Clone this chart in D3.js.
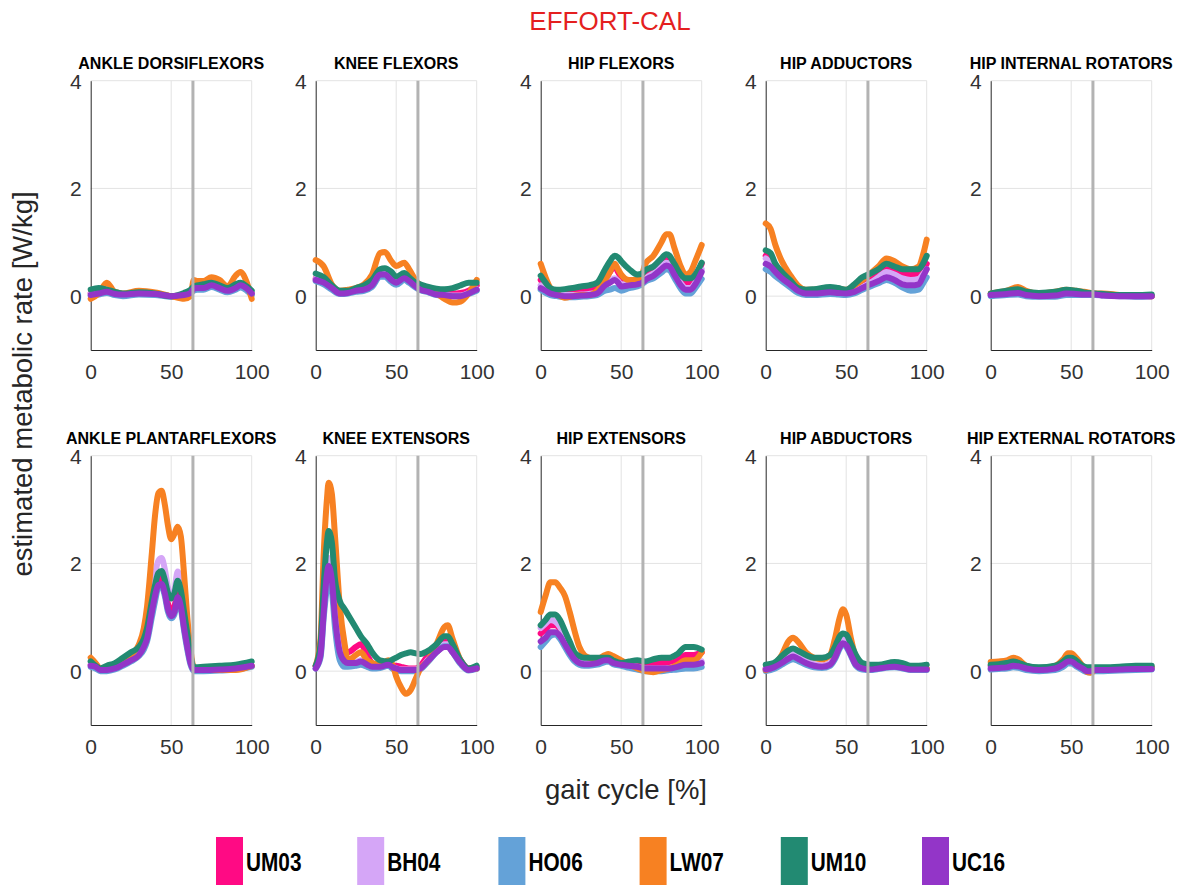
<!DOCTYPE html>
<html>
<head>
<meta charset="utf-8">
<script src="https://cdn.jsdelivr.net/npm/d3@7"></script>
<style>
  body { margin: 0; background: #fff; }
  svg { display: block; font-family: "Liberation Sans", Arial, sans-serif; }
</style>
</head>
<body>
<script>
const width = 1191;
const height = 885;

const subjects = ["UM03", "BH04", "HO06", "LW07", "UM10", "UC16"];
const colors = ["#ff0a84", "#d5a6f7", "#64a2d8", "#f78122", "#228a72", "#9335c8"];

const muscles = [
  "ANKLE DORSIFLEXORS", "KNEE FLEXORS", "HIP FLEXORS", "HIP ADDUCTORS", "HIP INTERNAL ROTATORS",
  "ANKLE PLANTARFLEXORS", "KNEE EXTENSORS", "HIP EXTENSORS", "HIP ABDUCTORS", "HIP EXTERNAL ROTATORS"
];

const xTicks = [0, 50, 100];
const yTicks = [0, 2, 4];
const toeOff = 63.5;

// series order in every panel: UM03, BH04, HO06, LW07, UM10, UC16
const ankleDorsiX = [0, 5, 10, 15, 20, 30, 40, 50, 58, 62, 64, 66, 70, 75, 80, 85, 90, 93, 97, 100];
const ankleDorsiY = [
  [0.05, 0.08, 0.1, 0.06, 0.04, 0.06, 0.05, 0.0, 0.02, 0.08, 0.15, 0.18, 0.18, 0.22, 0.17, 0.12, 0.17, 0.22, 0.15, 0.05],
  [0.04, 0.07, 0.09, 0.05, 0.03, 0.05, 0.04, 0.0, 0.02, 0.07, 0.14, 0.16, 0.16, 0.2, 0.15, 0.1, 0.15, 0.2, 0.13, 0.04],
  [0.0, 0.03, 0.06, 0.02, 0.0, 0.03, 0.02, -0.01, 0.0, 0.05, 0.1, 0.12, 0.12, 0.17, 0.12, 0.07, 0.12, 0.16, 0.1, 0.02],
  [-0.05, 0.05, 0.25, 0.08, 0.05, 0.1, 0.07, 0.0, -0.05, 0.0, 0.3, 0.28, 0.28, 0.35, 0.3, 0.18, 0.38, 0.45, 0.25, -0.05],
  [0.12, 0.15, 0.12, 0.08, 0.05, 0.07, 0.05, 0.0, 0.06, 0.12, 0.18, 0.2, 0.22, 0.25, 0.2, 0.15, 0.22, 0.25, 0.18, 0.1],
  [0.02, 0.05, 0.08, 0.04, 0.03, 0.05, 0.04, 0.0, 0.02, 0.06, 0.14, 0.15, 0.15, 0.2, 0.15, 0.1, 0.15, 0.2, 0.14, 0.05]
];

const kneeFlexX = [0, 5, 10, 15, 20, 25, 30, 35, 40, 43, 47, 50, 55, 58, 62, 65, 70, 75, 80, 85, 90, 95, 100];
const kneeFlexY = [
  [0.33, 0.27, 0.16, 0.06, 0.07, 0.11, 0.14, 0.22, 0.42, 0.42, 0.33, 0.27, 0.35, 0.3, 0.2, 0.14, 0.1, 0.06, 0.05, 0.05, 0.06, 0.1, 0.2],
  [0.32, 0.26, 0.15, 0.06, 0.07, 0.1, 0.13, 0.21, 0.41, 0.41, 0.32, 0.26, 0.34, 0.29, 0.19, 0.13, 0.09, 0.04, 0.03, 0.01, 0.01, 0.06, 0.13],
  [0.28, 0.22, 0.12, 0.04, 0.05, 0.08, 0.1, 0.17, 0.36, 0.36, 0.26, 0.21, 0.3, 0.25, 0.16, 0.11, 0.07, 0.02, 0.01, 0.0, 0.0, 0.04, 0.1],
  [0.67, 0.55, 0.22, 0.1, 0.12, 0.15, 0.22, 0.4, 0.8, 0.82, 0.65, 0.56, 0.62, 0.5, 0.3, 0.2, 0.1, 0.05, -0.05, -0.12, -0.1, 0.05, 0.3],
  [0.42, 0.35, 0.2, 0.1, 0.1, 0.15, 0.2, 0.3, 0.5, 0.52, 0.45, 0.36, 0.43, 0.35, 0.25, 0.22, 0.17, 0.14, 0.13, 0.15, 0.2, 0.25, 0.25],
  [0.3, 0.25, 0.15, 0.05, 0.06, 0.1, 0.12, 0.2, 0.4, 0.4, 0.3, 0.25, 0.33, 0.28, 0.18, 0.12, 0.08, 0.03, 0.02, 0.0, 0.0, 0.05, 0.12]
];

const hipFlexX = [0, 3, 6, 10, 15, 20, 25, 30, 35, 40, 43, 46, 48, 50, 55, 60, 63, 65, 70, 75, 78, 80, 83, 87, 90, 93, 96, 100];
const hipFlexY = [
  [0.3, 0.18, 0.1, 0.07, 0.07, 0.1, 0.12, 0.12, 0.15, 0.3, 0.45, 0.55, 0.45, 0.35, 0.25, 0.28, 0.35, 0.4, 0.45, 0.6, 0.68, 0.65, 0.5, 0.3, 0.25, 0.25, 0.35, 0.6],
  [0.2, 0.12, 0.06, 0.03, 0.02, 0.02, 0.03, 0.04, 0.07, 0.22, 0.28, 0.33, 0.28, 0.22, 0.22, 0.24, 0.27, 0.33, 0.42, 0.55, 0.62, 0.6, 0.45, 0.24, 0.15, 0.15, 0.25, 0.5],
  [0.12, 0.06, 0.02, 0.0, -0.02, -0.02, -0.01, 0.0, 0.02, 0.1, 0.12, 0.15, 0.13, 0.1, 0.15, 0.18, 0.22, 0.27, 0.33, 0.44, 0.5, 0.48, 0.34, 0.14, 0.05, 0.05, 0.15, 0.32],
  [0.6, 0.35, 0.15, 0.05, -0.03, 0.0, 0.02, 0.02, 0.1, 0.3, 0.45, 0.6, 0.5, 0.4, 0.3, 0.3, 0.4, 0.6, 0.75, 1.0, 1.15, 1.15, 0.9, 0.55, 0.4, 0.45, 0.65, 0.95],
  [0.38, 0.25, 0.15, 0.12, 0.13, 0.15, 0.18, 0.2, 0.25, 0.5, 0.65, 0.75, 0.72, 0.65, 0.5, 0.4, 0.42, 0.48, 0.55, 0.7, 0.78, 0.75, 0.6, 0.4, 0.33, 0.33, 0.4, 0.62],
  [0.15, 0.1, 0.05, 0.02, 0.0, 0.0, 0.01, 0.02, 0.05, 0.2, 0.25, 0.3, 0.25, 0.18, 0.2, 0.22, 0.25, 0.3, 0.38, 0.5, 0.57, 0.55, 0.4, 0.2, 0.12, 0.12, 0.22, 0.45]
];

const hipAddX = [0, 3, 6, 10, 15, 20, 25, 30, 40, 45, 50, 55, 60, 65, 70, 75, 80, 85, 90, 95, 98, 100];
const hipAddY = [
  [0.75, 0.68, 0.5, 0.35, 0.22, 0.1, 0.08, 0.08, 0.1, 0.08, 0.05, 0.1, 0.2, 0.3, 0.4, 0.5, 0.45, 0.42, 0.4, 0.42, 0.5, 0.6],
  [0.7, 0.62, 0.48, 0.35, 0.22, 0.1, 0.06, 0.06, 0.08, 0.07, 0.05, 0.08, 0.17, 0.25, 0.35, 0.45, 0.4, 0.33, 0.3, 0.32, 0.42, 0.5],
  [0.5, 0.45, 0.37, 0.28, 0.17, 0.06, 0.02, 0.02, 0.04, 0.03, 0.02, 0.05, 0.12, 0.18, 0.24, 0.3, 0.25, 0.16, 0.1, 0.12, 0.25, 0.35],
  [1.35, 1.25, 0.95, 0.65, 0.4, 0.2, 0.12, 0.12, 0.15, 0.14, 0.12, 0.2, 0.3, 0.42, 0.55, 0.7, 0.65, 0.55, 0.5, 0.55, 0.8, 1.05],
  [0.85, 0.8, 0.6, 0.45, 0.3, 0.15, 0.12, 0.13, 0.17, 0.15, 0.12, 0.22, 0.35, 0.42, 0.5, 0.6, 0.55, 0.5, 0.5, 0.5, 0.62, 0.75],
  [0.6, 0.55, 0.45, 0.33, 0.22, 0.1, 0.05, 0.05, 0.07, 0.06, 0.05, 0.08, 0.15, 0.22, 0.28, 0.35, 0.3, 0.22, 0.2, 0.22, 0.38, 0.5]
];

const hipIntRotX = [0, 10, 17, 22, 30, 40, 47, 53, 58, 65, 70, 80, 90, 100];
const hipIntRotY = [
  [0.03, 0.06, 0.09, 0.05, 0.03, 0.04, 0.07, 0.06, 0.05, 0.04, 0.03, 0.01, 0.0, 0.0],
  [0.02, 0.05, 0.08, 0.04, 0.02, 0.03, 0.06, 0.05, 0.04, 0.03, 0.02, 0.01, 0.0, 0.0],
  [0.0, 0.02, 0.03, 0.0, -0.01, -0.01, 0.02, 0.02, 0.02, 0.02, 0.01, 0.0, -0.01, 0.0],
  [0.05, 0.1, 0.17, 0.1, 0.05, 0.08, 0.12, 0.1, 0.08, 0.05, 0.05, 0.02, 0.01, 0.0],
  [0.05, 0.1, 0.13, 0.08, 0.06, 0.08, 0.12, 0.1, 0.07, 0.05, 0.04, 0.02, 0.02, 0.03],
  [0.02, 0.04, 0.06, 0.02, 0.0, 0.01, 0.05, 0.04, 0.03, 0.03, 0.01, 0.0, 0.0, 0.0]
];

const anklePlantX = [0, 3, 6, 10, 15, 20, 25, 30, 33, 35, 38, 40, 42, 44, 46, 48, 50, 52, 54, 56, 58, 60, 62, 64, 65, 70, 80, 90, 100];
const anklePlantY = [
  [0.12, 0.08, 0.03, 0.03, 0.07, 0.14, 0.22, 0.35, 0.5, 0.7, 1.2, 1.5, 1.7, 1.72, 1.55, 1.25, 1.12, 1.2, 1.45, 1.3, 0.85, 0.5, 0.18, 0.03, 0.02, 0.02, 0.03, 0.05, 0.1],
  [0.12, 0.08, 0.03, 0.03, 0.07, 0.14, 0.22, 0.35, 0.55, 0.8, 1.4, 1.8, 2.05, 2.1, 1.9, 1.55, 1.35, 1.5, 1.85, 1.65, 1.2, 0.65, 0.3, 0.05, 0.03, 0.03, 0.04, 0.06, 0.1],
  [0.08, 0.05, 0.0, 0.0, 0.03, 0.1, 0.18, 0.28, 0.4, 0.55, 1.0, 1.3, 1.55, 1.58, 1.4, 1.1, 0.98, 1.05, 1.3, 1.15, 0.75, 0.4, 0.12, 0.0, 0.0, 0.0, 0.01, 0.03, 0.08],
  [0.25, 0.15, 0.05, 0.05, 0.12, 0.2, 0.3, 0.5, 0.8, 1.2, 2.2, 2.9, 3.3, 3.35, 3.1, 2.7, 2.45, 2.55, 2.68, 2.5, 1.8, 1.0, 0.4, 0.05, 0.02, 0.02, 0.02, 0.02, 0.1],
  [0.18, 0.1, 0.05, 0.1, 0.15, 0.25, 0.35, 0.45, 0.6, 0.8, 1.3, 1.6, 1.82, 1.86, 1.7, 1.45, 1.35, 1.45, 1.68, 1.5, 1.1, 0.7, 0.3, 0.08, 0.07, 0.08, 0.1, 0.12, 0.18],
  [0.1, 0.08, 0.02, 0.02, 0.05, 0.12, 0.2, 0.3, 0.45, 0.6, 1.1, 1.4, 1.6, 1.62, 1.45, 1.15, 1.02, 1.1, 1.37, 1.2, 0.8, 0.45, 0.15, 0.02, 0.02, 0.02, 0.03, 0.05, 0.1]
];

const kneeExtX = [0, 3, 5, 7, 8, 10, 12, 15, 18, 20, 25, 28, 32, 35, 40, 45, 48, 50, 53, 56, 59, 62, 65, 70, 75, 80, 82, 85, 90, 95, 100];
const kneeExtY = [
  [0.1, 0.4, 1.2, 1.75, 1.9, 1.8, 1.0, 0.6, 0.4, 0.35, 0.45, 0.5, 0.3, 0.15, 0.1, 0.12, 0.1, 0.1, 0.08, 0.06, 0.05, 0.05, 0.1, 0.3, 0.4, 0.55, 0.55, 0.45, 0.2, 0.05, 0.05],
  [0.1, 0.35, 1.3, 1.95, 2.1, 1.9, 1.1, 0.4, 0.2, 0.18, 0.17, 0.2, 0.14, 0.1, 0.09, 0.12, 0.07, 0.05, 0.03, 0.03, 0.03, 0.03, 0.06, 0.22, 0.38, 0.5, 0.5, 0.38, 0.16, 0.03, 0.05],
  [0.05, 0.25, 1.0, 1.55, 1.7, 1.5, 0.8, 0.2, 0.08, 0.08, 0.1, 0.12, 0.08, 0.05, 0.06, 0.1, 0.04, 0.02, 0.0, 0.0, 0.0, 0.0, 0.03, 0.18, 0.35, 0.46, 0.46, 0.35, 0.13, 0.01, 0.04],
  [0.1, 0.6, 2.2, 3.2, 3.5, 3.3, 2.5, 1.2, 0.5, 0.2, 0.3, 0.35, 0.2, 0.15, 0.12, 0.2, 0.1, -0.1, -0.3, -0.42, -0.35, -0.15, 0.05, 0.2, 0.5, 0.82, 0.85, 0.6, 0.2, 0.05, 0.05],
  [0.1, 0.5, 1.6, 2.4, 2.6, 2.4, 1.7, 1.3, 1.15, 1.05, 0.8, 0.65, 0.5, 0.35, 0.2, 0.18, 0.22, 0.25, 0.3, 0.33, 0.35, 0.33, 0.32, 0.38, 0.5, 0.65, 0.65, 0.5, 0.2, 0.05, 0.1],
  [0.05, 0.3, 1.1, 1.8, 1.95, 1.7, 1.0, 0.35, 0.18, 0.15, 0.15, 0.18, 0.12, 0.08, 0.08, 0.12, 0.07, 0.05, 0.02, 0.02, 0.02, 0.02, 0.05, 0.2, 0.35, 0.45, 0.45, 0.35, 0.15, 0.02, 0.05]
];

const hipExtX = [0, 3, 6, 9, 12, 15, 18, 21, 24, 27, 30, 35, 40, 42, 45, 50, 55, 60, 65, 70, 75, 80, 85, 90, 95, 100];
const hipExtY = [
  [0.7, 0.78, 0.85, 0.85, 0.78, 0.6, 0.42, 0.28, 0.2, 0.17, 0.17, 0.18, 0.22, 0.22, 0.18, 0.15, 0.12, 0.1, 0.1, 0.15, 0.15, 0.15, 0.2, 0.3, 0.3, 0.35],
  [0.8, 0.88, 0.95, 0.92, 0.82, 0.65, 0.45, 0.3, 0.2, 0.16, 0.15, 0.16, 0.2, 0.2, 0.16, 0.13, 0.1, 0.08, 0.05, 0.05, 0.05, 0.06, 0.1, 0.14, 0.14, 0.18],
  [0.45, 0.55, 0.65, 0.68, 0.6, 0.45, 0.3, 0.18, 0.12, 0.1, 0.1, 0.12, 0.17, 0.18, 0.13, 0.1, 0.06, 0.03, 0.0, 0.0, 0.0, 0.02, 0.03, 0.05, 0.05, 0.08],
  [1.1, 1.4, 1.65, 1.65, 1.55, 1.4, 1.1, 0.75, 0.45, 0.3, 0.25, 0.22, 0.3, 0.32, 0.28, 0.2, 0.12, 0.05, 0.0, -0.02, 0.02, 0.05, 0.12, 0.2, 0.2, 0.35],
  [0.85, 0.95, 1.05, 1.05, 0.95, 0.75, 0.55, 0.35, 0.28, 0.25, 0.25, 0.25, 0.25, 0.25, 0.2, 0.15, 0.18, 0.2, 0.18, 0.22, 0.25, 0.25, 0.32, 0.45, 0.45, 0.4],
  [0.55, 0.62, 0.72, 0.72, 0.65, 0.5, 0.35, 0.22, 0.15, 0.13, 0.13, 0.15, 0.2, 0.2, 0.15, 0.12, 0.1, 0.08, 0.05, 0.05, 0.05, 0.05, 0.08, 0.12, 0.12, 0.15]
];

const hipAbdX = [0, 5, 10, 14, 17, 20, 25, 30, 35, 40, 43, 46, 48, 50, 53, 56, 60, 65, 70, 80, 85, 90, 95, 100];
const hipAbdY = [
  [0.05, 0.08, 0.17, 0.26, 0.3, 0.26, 0.17, 0.12, 0.1, 0.14, 0.28, 0.48, 0.55, 0.5, 0.32, 0.14, 0.06, 0.04, 0.06, 0.09, 0.07, 0.04, 0.04, 0.04],
  [0.05, 0.1, 0.2, 0.3, 0.35, 0.3, 0.2, 0.13, 0.1, 0.15, 0.3, 0.52, 0.6, 0.55, 0.35, 0.15, 0.06, 0.04, 0.06, 0.09, 0.07, 0.04, 0.04, 0.04],
  [0.0, 0.04, 0.12, 0.19, 0.22, 0.19, 0.12, 0.07, 0.06, 0.1, 0.22, 0.42, 0.5, 0.45, 0.28, 0.1, 0.03, 0.02, 0.04, 0.07, 0.05, 0.02, 0.02, 0.02],
  [0.02, 0.1, 0.3, 0.55, 0.62, 0.55, 0.35, 0.25, 0.22, 0.3, 0.6, 1.0, 1.15, 1.05, 0.6, 0.25, 0.08, 0.05, 0.08, 0.1, 0.08, 0.05, 0.05, 0.05],
  [0.12, 0.15, 0.28, 0.38, 0.42, 0.38, 0.3, 0.25, 0.25, 0.3, 0.45, 0.65, 0.7, 0.68, 0.5, 0.3, 0.15, 0.12, 0.12, 0.17, 0.15, 0.1, 0.1, 0.12],
  [0.03, 0.07, 0.15, 0.23, 0.27, 0.23, 0.15, 0.1, 0.08, 0.12, 0.25, 0.45, 0.52, 0.48, 0.3, 0.12, 0.05, 0.03, 0.05, 0.08, 0.06, 0.03, 0.03, 0.03]
];

const hipExtRotX = [0, 5, 10, 14, 17, 22, 30, 40, 45, 48, 50, 53, 57, 60, 62, 65, 70, 80, 90, 100];
const hipExtRotY = [
  [0.1, 0.1, 0.12, 0.15, 0.13, 0.07, 0.03, 0.06, 0.14, 0.2, 0.2, 0.15, 0.06, 0.01, 0.0, 0.02, 0.03, 0.04, 0.05, 0.06],
  [0.08, 0.09, 0.1, 0.13, 0.11, 0.05, 0.02, 0.05, 0.13, 0.19, 0.19, 0.14, 0.05, 0.0, 0.0, 0.01, 0.02, 0.03, 0.04, 0.05],
  [0.03, 0.04, 0.05, 0.07, 0.06, 0.02, 0.0, 0.02, 0.08, 0.14, 0.14, 0.09, 0.02, -0.02, -0.02, 0.0, 0.0, 0.01, 0.02, 0.03],
  [0.17, 0.18, 0.2, 0.25, 0.22, 0.1, 0.05, 0.1, 0.22, 0.33, 0.33, 0.25, 0.1, -0.02, -0.03, 0.02, 0.03, 0.05, 0.05, 0.08],
  [0.12, 0.13, 0.15, 0.18, 0.16, 0.1, 0.07, 0.1, 0.18, 0.25, 0.25, 0.2, 0.1, 0.07, 0.07, 0.07, 0.07, 0.08, 0.1, 0.1],
  [0.05, 0.06, 0.07, 0.1, 0.09, 0.05, 0.02, 0.05, 0.12, 0.18, 0.18, 0.12, 0.05, 0.0, 0.0, 0.02, 0.02, 0.03, 0.04, 0.04]
];

const panelX = [ankleDorsiX, kneeFlexX, hipFlexX, hipAddX, hipIntRotX, anklePlantX, kneeExtX, hipExtX, hipAbdX, hipExtRotX];
const panelY = [ankleDorsiY, kneeFlexY, hipFlexY, hipAddY, hipIntRotY, anklePlantY, kneeExtY, hipExtY, hipAbdY, hipExtRotY];

// layout
const colLeft = [90.7, 315.7, 540.7, 765.7, 990.7];
const rowTop = [80.7, 455.7];
const plotW = 161;
const plotH = 269.3;

const svg = d3.select("body").append("svg")
  .attr("width", width)
  .attr("height", height);

svg.append("text")
  .attr("x", 610)
  .attr("y", 30)
  .attr("text-anchor", "middle")
  .attr("font-size", "26px")
  .attr("fill", "#e41f1f")
  .text("EFFORT-CAL");

const x = d3.scaleLinear().domain([0, 100]).range([0, plotW]);
const y = d3.scaleLinear().domain([-1, 4]).range([plotH, 0]);

muscles.forEach((name, i) => {
  const g = svg.append("g")
    .attr("transform", `translate(${colLeft[i % 5]}, ${rowTop[Math.floor(i / 5)]})`);

  // grid
  g.selectAll(".gy").data(yTicks).enter().append("line")
    .attr("x1", 0).attr("x2", plotW)
    .attr("y1", d => y(d)).attr("y2", d => y(d))
    .attr("stroke", "#e3e3e3").attr("stroke-width", 1);
  g.selectAll(".gx").data(xTicks.slice(1)).enter().append("line")
    .attr("x1", d => x(d)).attr("x2", d => x(d))
    .attr("y1", 0).attr("y2", plotH)
    .attr("stroke", "#e3e3e3").attr("stroke-width", 1);

  // axes
  const xAxis = g.append("g")
    .attr("transform", `translate(0, ${plotH})`)
    .call(d3.axisBottom(x).tickValues(xTicks).tickSize(0).tickPadding(14).tickFormat(d3.format("d")));
  const yAxis = g.append("g")
    .call(d3.axisLeft(y).tickValues(yTicks).tickSize(0).tickPadding(9).tickFormat(d3.format("d")));
  [xAxis, yAxis].forEach(a => {
    a.select(".domain").attr("stroke", "#262626").attr("stroke-width", 1);
    a.selectAll("text")
      .attr("font-size", "21px")
      .attr("fill", "#333")
      .attr("font-family", "'Liberation Sans', Arial, sans-serif");
  });
  yAxis.selectAll("text").attr("dy", "0.36em");

  // lines
  const line = d3.line()
    .x((d, k) => x(panelX[i][k]))
    .y(d => y(d))
    .curve(d3.curveMonotoneX);

  g.selectAll(".series").data(panelY[i]).enter().append("path")
    .attr("d", d => line(d))
    .attr("fill", "none")
    .attr("stroke", (d, k) => colors[k])
    .attr("stroke-width", 6)
    .attr("stroke-linejoin", "round")
    .attr("stroke-linecap", "round");

  // toe-off line
  g.append("line")
    .attr("x1", x(toeOff)).attr("x2", x(toeOff))
    .attr("y1", 0).attr("y2", plotH)
    .attr("stroke", "#b3b3b3").attr("stroke-width", 3);

  g.append("text")
    .attr("x", plotW / 2)
    .attr("y", -12)
    .attr("text-anchor", "middle")
    .attr("font-size", "16px")
    .attr("font-weight", "bold")
    .attr("fill", "#000")
    .text(name);
});

svg.append("text")
  .attr("transform", "translate(32, 384) rotate(-90)")
  .attr("text-anchor", "middle")
  .attr("font-size", "27.5px")
  .attr("fill", "#262626")
  .text("estimated metabolic rate [W/kg]");

svg.append("text")
  .attr("x", 626)
  .attr("y", 799)
  .attr("text-anchor", "middle")
  .attr("font-size", "27.5px")
  .attr("fill", "#262626")
  .text("gait cycle [%]");

// legend
const legend = svg.append("g");
const item = legend.selectAll("g").data(subjects).enter().append("g")
  .attr("transform", (d, k) => `translate(${216 + k * 141.2}, 837)`);
item.append("rect")
  .attr("width", 27).attr("height", 50)
  .attr("fill", (d, k) => colors[k]);
item.append("text")
  .attr("transform", "translate(30, 34) scale(0.8, 1)")
  .attr("font-size", "26px")
  .attr("font-weight", "bold")
  .attr("fill", "#000")
  .text(d => d);
</script>
</body>
</html>
